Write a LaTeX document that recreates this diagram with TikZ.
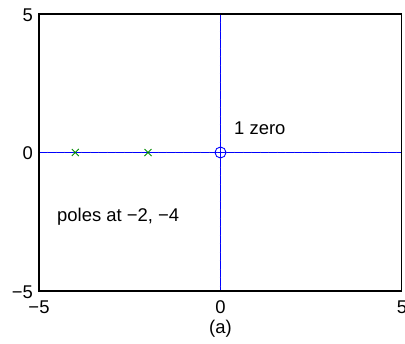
\documentclass[tikz,border=0pt]{standalone}
\usepackage{fontspec}
\setmainfont{Liberation Sans}
\usetikzlibrary{calc}
\begin{document}
\begin{tikzpicture}[x=1bp,y=-1bp,
  lbl/.style={inner sep=0pt,font=\fontsize{18.5}{21}\selectfont},
  axisline/.style={blue,line width=0.9bp},
  frame/.style={black,line width=1.3bp},
  pole/.style={draw=green!55!black,line width=0.8bp},
  tickmark/.style={blue!70!gray,line width=0.4bp}]
\useasboundingbox (0,0) rectangle (405,344);
\fill[white] (0,0) rectangle (405,344);
% blue axes
\draw[axisline] (39,152.5) -- (402,152.5);
\draw[axisline] (220.5,14) -- (220.5,291);
% faint minor ticks on blue lines
\foreach \i in {1,...,42} {
  \draw[tickmark] ({39+\i*8.5},151.7) -- ({39+\i*8.5},153.3);
}
\foreach \i in {1,...,32} {
  \draw[tickmark] (219.7,{14+\i*8.5}) -- (221.3,{14+\i*8.5});
}
% frame
\draw[frame] (39,14) rectangle (401.7,291);
% zero
\draw[blue,line width=0.9bp] (220.5,152.5) circle (5.5);
% poles
\foreach \px/\nm in {75.3/p4,148/p2} {
  \coordinate (\nm) at (\px,152.5);
  \draw[pole] ($(\nm)+(-3.5,-3.5)$) -- ($(\nm)+(3.5,3.5)$);
  \draw[pole] ($(\nm)+(-3.5,3.5)$) -- ($(\nm)+(3.5,-3.5)$);
}
% y tick labels
\node[lbl,anchor=east] (y5) at (33,15) {5};
\node[lbl,anchor=east] (y0) at (33,153) {0};
\node[lbl,anchor=east] (ym5) at (33,292) {−5};
% x tick labels
\node[lbl] (xm5) at (39,307.5) {−5};
\node[lbl] (x0) at (220.5,307.5) {0};
\node[lbl] (x5) at (402,307.5) {5};
\node[lbl] (cap) at (220.5,328.5) {(a)};
% annotations
\node[lbl,anchor=west] (zl) at (234,128) {1 zero};
\node[lbl,anchor=west] (pl) at (57,217) {poles at −2, −4};
\end{tikzpicture}
\end{document}
